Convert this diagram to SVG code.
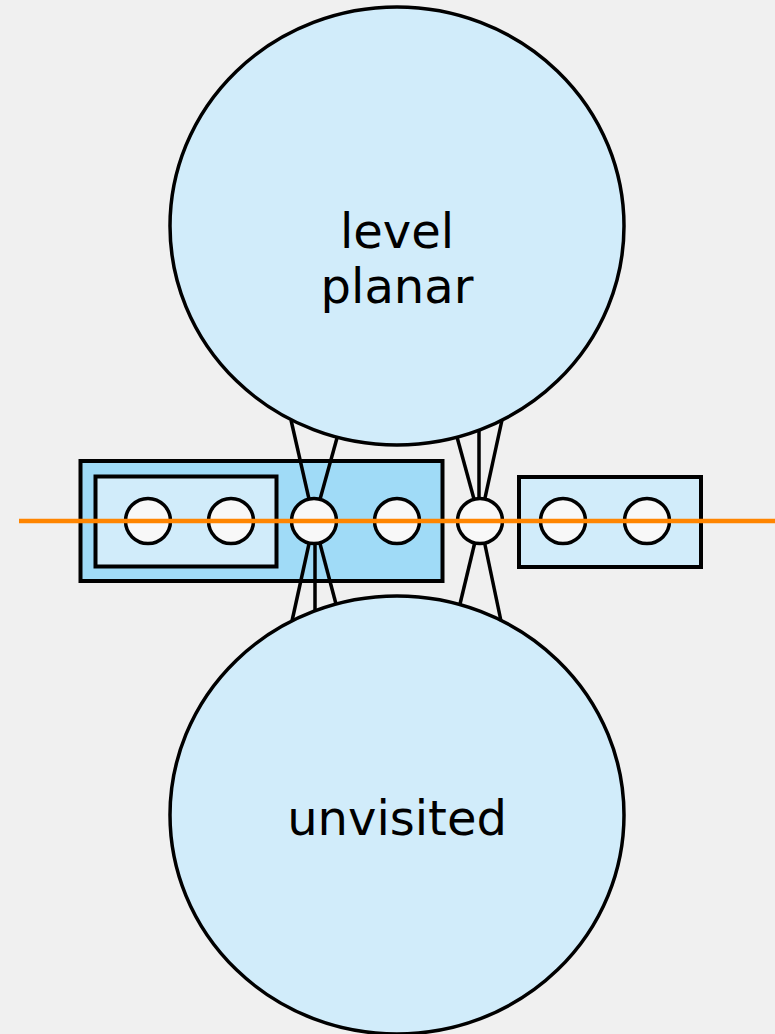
<svg xmlns="http://www.w3.org/2000/svg" width="775" height="1034" viewBox="0 0 775 1034">
  <style>
    .region { fill: #d1ecfa; stroke: #000; stroke-width: 3.5; }
    .box { stroke: #000; stroke-width: 4; }
    .vertex { fill: #f8f8f8; stroke: #000; stroke-width: 3.5; }
    .edge { stroke: #000; stroke-width: 3.5; fill: none; }
    .label { font-family: "DejaVu Sans", sans-serif; font-size: 48px; fill: #000; text-anchor: middle; }
    .sweep { stroke: #ff8500; stroke-width: 4.5; }
  </style>
  <rect width="775" height="1034" fill="#f0f0f0"/>

  <g id="level-planar">
    <ellipse class="region" cx="397" cy="226" rx="227" ry="219"/>
    <text class="label" x="397" y="248">level</text>
    <text class="label" x="397" y="303">planar</text>
  </g>

  <g id="unvisited">
    <ellipse class="region" cx="397" cy="815" rx="227" ry="219"/>
    <text class="label" x="397" y="835">unvisited</text>
  </g>

  <g id="outer-block">
    <rect class="box" x="80.5" y="461" width="362" height="120" fill="#a0dbf7"/>
  </g>
  <g id="inner-block">
    <rect class="box" x="95.5" y="476.5" width="181" height="90" fill="#d1ecfa"/>
  </g>
  <g id="right-block">
    <rect class="box" x="519" y="477" width="182" height="90" fill="#d1ecfa"/>
  </g>

  <!-- edges between the two big regions and the shared vertices -->
  <g id="connectors">
    <line class="edge" x1="291" y1="420" x2="314" y2="521"/>
    <line class="edge" x1="337" y1="438" x2="314" y2="521"/>
    <line class="edge" x1="292" y1="621" x2="314" y2="521"/>
    <line class="edge" x1="315" y1="610" x2="315" y2="521"/>
    <line class="edge" x1="336" y1="604" x2="314" y2="521"/>
    <line class="edge" x1="457" y1="437" x2="480" y2="521"/>
    <line class="edge" x1="479" y1="430" x2="479" y2="521"/>
    <line class="edge" x1="502" y1="420" x2="480" y2="521"/>
    <line class="edge" x1="460" y1="604" x2="480" y2="521"/>
    <line class="edge" x1="501" y1="621" x2="480" y2="521"/>
  </g>

  <g id="vertices">
    <circle class="vertex" cx="148" cy="521" r="22.5"/>
    <circle class="vertex" cx="231" cy="521" r="22.5"/>
    <circle class="vertex" cx="314" cy="521" r="22.5"/>
    <circle class="vertex" cx="397" cy="521" r="22.5"/>
    <circle class="vertex" cx="480" cy="521" r="22.5"/>
    <circle class="vertex" cx="563" cy="521" r="22.5"/>
    <circle class="vertex" cx="647" cy="521" r="22.5"/>
  </g>

  <g id="sweep-line">
    <line class="sweep" x1="19" y1="521" x2="775" y2="521"/>
  </g>
</svg>
